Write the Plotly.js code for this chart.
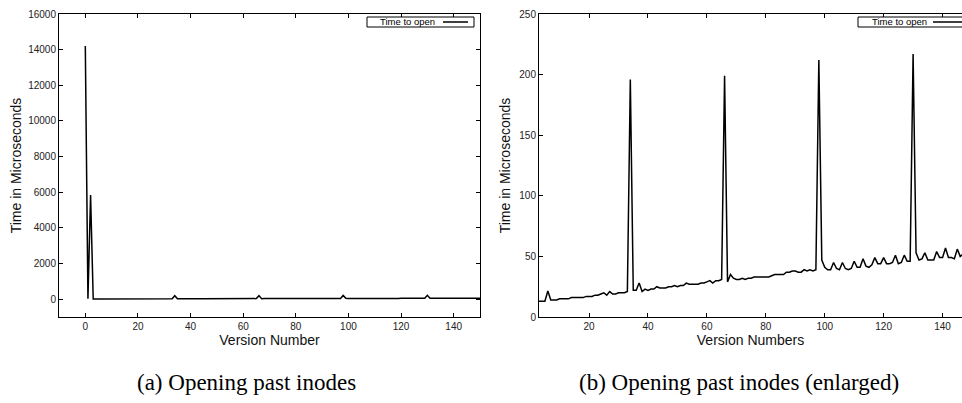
<!DOCTYPE html>
<html>
<head>
<meta charset="utf-8">
<script src="https://cdn.plot.ly/plotly-3.0.1.min.js"></script>
<style>
html,body{margin:0;padding:0;background:#fff;}
#chart{width:962px;height:403px;}
</style>
</head>
<body>
<div id="chart"></div>
<script>
// Version numbers (x) and time to open (microseconds)
const versionNumbers = [
  0,1,2,3,4,5,6,7,8,9,10,11,12,13,14,15,16,17,18,19,
  20,21,22,23,24,25,26,27,28,29,30,31,32,33,34,35,36,37,38,39,
  40,41,42,43,44,45,46,47,48,49,50,51,52,53,54,55,56,57,58,59,
  60,61,62,63,64,65,66,67,68,69,70,71,72,73,74,75,76,77,78,79,
  80,81,82,83,84,85,86,87,88,89,90,91,92,93,94,95,96,97,98,99,
  100,101,102,103,104,105,106,107,108,109,110,111,112,113,114,115,116,117,118,119,
  120,121,122,123,124,125,126,127,128,129,130,131,132,133,134,135,136,137,138,139,
  140,141,142,143,144,145,146,147,148,149,150
];
const timeToOpen = [
  14200,30,5850,13,13,13,21.5,14,14,14,15,15,15,15,16,16,16,16,16,17,
  17,17,18,18,19,20,18,21,19,19,20,20,20,21,196,22,22,28,21,23,
  22,23,23,25,24,24,24,25,25,26,25,26,26,28,27,27,27,27,28,28,
  29,30,28,30,30,31,199,29,35,32,31,31,32,31,32,32,33,33,33,33,
  33,33,34,35,35,35,35,37,37,38,38,37,37,39,38,39,38,39,212,47,
  41,39,39,45,40,39,45,40,39,40,46,41,41,48,42,41,43,49,44,44,
  49,44,44,45,51,44,45,51,46,46,217,53,47,48,53,47,47,47,54,49,
  49,57,49,49,48,56,50,52,50,50,48
];
// Enlarged view starts at version 3
const enlargedStart = 3;
const enlargedX = versionNumbers.slice(enlargedStart);
const enlargedY = timeToOpen.slice(enlargedStart);

const seriesName = 'Time to open';
const xTitleA = 'Version Number';
const xTitleB = 'Version Numbers';
const yTitle = 'Time in Microseconds';
const captionA = '(a) Opening past inodes';
const captionB = '(b) Opening past inodes (enlarged)';
const yTicksA = [0,2000,4000,6000,8000,10000,12000,14000,16000];
const yTicksB = [0,50,100,150,200,250];
const xTicksA = [0,20,40,60,80,100,120,140];
const xTicksB = [20,40,60,80,100,120,140];

const tickFont = {family: 'Liberation Sans, Arial, sans-serif', size: 10, color: '#222'};
const titleFont = {family: 'Liberation Sans, Arial, sans-serif', size: 14, color: '#111'};

function axisBase(extra) {
  return Object.assign({
    showline: true, linecolor: '#000', linewidth: 1,
    ticks: 'inside', ticklen: 4, tickcolor: '#000', tickwidth: 1,
    mirror: 'ticks', showgrid: false, zeroline: false,
    tickfont: tickFont, tickformat: 'd'
  }, extra);
}

const yBottom = 1 - 317/403, yTop = 1 - 14/403;

const traces = [
  {x: versionNumbers, y: timeToOpen, type: 'scatter', mode: 'lines', name: seriesName,
   line: {color: '#000', width: 1.5}, xaxis: 'x', yaxis: 'y', showlegend: false},
  {x: enlargedX, y: enlargedY, type: 'scatter', mode: 'lines', name: seriesName,
   line: {color: '#000', width: 1.5}, xaxis: 'x2', yaxis: 'y2', showlegend: false}
];

const layout = {
  width: 962, height: 403,
  margin: {l: 0, r: 0, t: 0, b: 0},
  paper_bgcolor: '#fff', plot_bgcolor: '#fff',
  showlegend: false,
  xaxis: axisBase({domain: [59/962, 480/962], range: [-10, 150], tickvals: xTicksA, anchor: 'y',
    title: {text: xTitleA, font: titleFont, standoff: 4}}),
  yaxis: axisBase({domain: [yBottom, yTop], range: [-1000, 16000], tickvals: yTicksA, anchor: 'x',
    title: {text: yTitle, font: titleFont, standoff: 3}}),
  xaxis2: axisBase({domain: [539/962, 1], range: [3, 146.6], tickvals: xTicksB, anchor: 'y2',
    title: {text: xTitleB, font: titleFont, standoff: 4}}),
  yaxis2: axisBase({domain: [yBottom, yTop], range: [0, 250], tickvals: yTicksB, anchor: 'x2', mirror: false,
    title: {text: yTitle, font: titleFont, standoff: 5}}),
  shapes: [
    // legend box (a)
    {type: 'rect', xref: 'paper', yref: 'paper', x0: 367/962, x1: 474/962, y0: 1-27/403, y1: 1-17/403,
     line: {color: '#000', width: 1}, fillcolor: '#fff', layer: 'above'},
    {type: 'line', xref: 'paper', yref: 'paper', x0: 443/962, x1: 468/962, y0: 1-22/403, y1: 1-22/403,
     line: {color: '#000', width: 1.5}, layer: 'above'},
    // legend box (b)
    {type: 'rect', xref: 'paper', yref: 'paper', x0: 858/962, x1: 970/962, y0: 1-27/403, y1: 1-17/403,
     line: {color: '#000', width: 1}, fillcolor: '#fff', layer: 'above'},
    {type: 'line', xref: 'paper', yref: 'paper', x0: 933/962, x1: 970/962, y0: 1-22/403, y1: 1-22/403,
     line: {color: '#000', width: 1.5}, layer: 'above'}
  ],
  annotations: [
    {xref: 'paper', yref: 'paper', x: 407/962, y: 1-22/403, text: seriesName, showarrow: false,
     xanchor: 'center', yanchor: 'middle', font: {family: 'Liberation Sans, Arial, sans-serif', size: 9.5, color: '#000'}},
    {xref: 'paper', yref: 'paper', x: 899/962, y: 1-22/403, text: seriesName, showarrow: false,
     xanchor: 'center', yanchor: 'middle', font: {family: 'Liberation Sans, Arial, sans-serif', size: 9.5, color: '#000'}},
    {xref: 'paper', yref: 'paper', x: 246/962, y: 1-382/403, text: captionA, showarrow: false,
     xanchor: 'center', yanchor: 'middle', font: {family: 'Liberation Serif, Times New Roman, serif', size: 23, color: '#000'}},
    {xref: 'paper', yref: 'paper', x: 739/962, y: 1-382/403, text: captionB, showarrow: false,
     xanchor: 'center', yanchor: 'middle', font: {family: 'Liberation Serif, Times New Roman, serif', size: 23, color: '#000'}}
  ]
};

Plotly.newPlot('chart', traces, layout, {staticPlot: true, displayModeBar: false});
</script>
</body>
</html>
